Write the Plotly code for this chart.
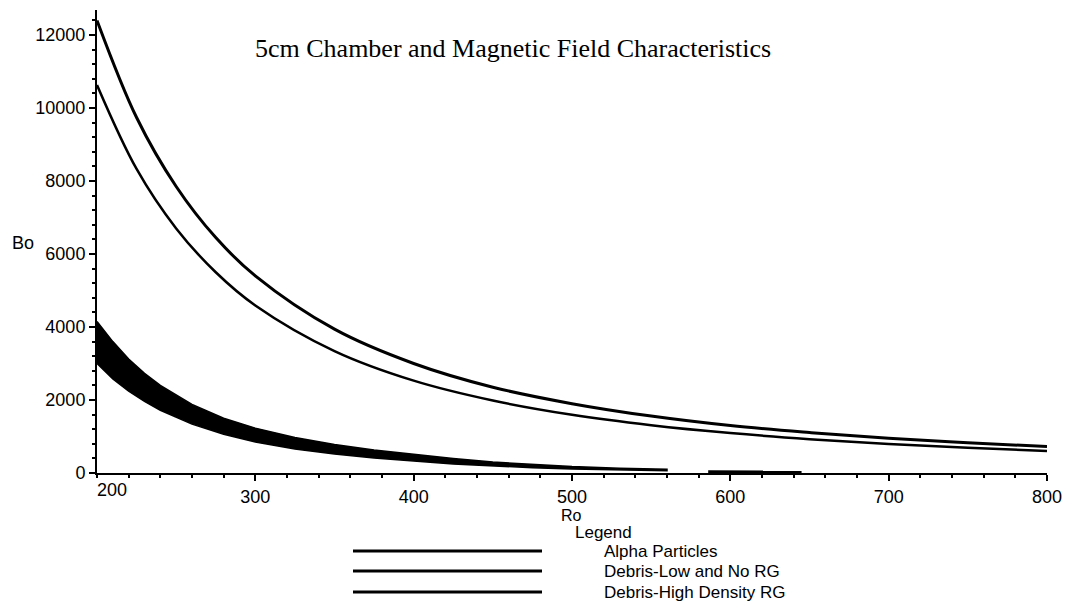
import plotly.graph_objects as go

# ---------------- data ----------------
title_text = "5cm Chamber and Magnetic Field Characteristics"
series_names = ["Alpha Particles", "Debris-Low and No RG", "Debris-High Density RG"]

# Alpha particles: dense band (upper / lower envelope)
r_band = [200, 210, 220, 230, 240, 250, 260, 280, 300, 325, 350, 375, 400, 425, 450, 475, 500, 530, 560]
alpha_top = [4150, 3600, 3120, 2730, 2400, 2130, 1880, 1500, 1230, 970, 780, 630, 510, 400, 300, 230, 175, 130, 100]
alpha_bottom = [3000, 2580, 2240, 1960, 1720, 1520, 1340, 1060, 850, 660, 520, 410, 330, 250, 190, 145, 110, 80, 60]
r_tail = [586, 645]
alpha_tail = [35, 25]

# Debris curves
r_line = [200, 225, 250, 275, 300, 350, 400, 450, 500, 550, 600, 650, 700, 750, 800]
debris_low = [10630, 8330, 6700, 5500, 4590, 3340, 2530, 1985, 1595, 1310, 1094, 927, 795, 689, 603]
debris_high = [12400, 9740, 7850, 6450, 5400, 3940, 3000, 2350, 1900, 1560, 1300, 1110, 950, 830, 725]

x_tick_vals = [200, 300, 400, 500, 600, 700, 800]
y_tick_vals = [0, 2000, 4000, 6000, 8000, 10000, 12000]
x_label = "Ro"
y_label = "Bo"
legend_title = "Legend"

# ---------------- layout geometry ----------------
W, H = 1072, 608
ML, MR, MT, MB = 97, 25, 10, 135
PW = W - ML - MR
PH = H - MT - MB
Y_TOP = 12685


def px(xp):
    return (xp - ML) / PW


def py(yp):
    return (H - MB - yp) / PH


fig = go.Figure()

fig.add_trace(go.Scatter(
    x=r_band + r_band[::-1],
    y=alpha_top + alpha_bottom[::-1],
    mode="lines", fill="toself", fillcolor="black",
    line=dict(color="black", width=1.5),
    name=series_names[0], showlegend=False, hoverinfo="skip"))
fig.add_trace(go.Scatter(
    x=r_tail, y=alpha_tail, mode="lines",
    line=dict(color="black", width=3),
    showlegend=False, hoverinfo="skip"))
fig.add_trace(go.Scatter(
    x=r_line, y=debris_low, mode="lines", line_shape="spline",
    line=dict(color="black", width=2.5),
    name=series_names[1], showlegend=False))
fig.add_trace(go.Scatter(
    x=r_line, y=debris_high, mode="lines", line_shape="spline",
    line=dict(color="black", width=3),
    name=series_names[2], showlegend=False))

tick_font = dict(family="Liberation Sans, Arial, sans-serif", size=18, color="black")

fig.update_xaxes(
    range=[x_tick_vals[0], x_tick_vals[-1]],
    tickvals=x_tick_vals[1:], ticktext=[str(v) for v in x_tick_vals[1:]],
    showline=True, linecolor="black", linewidth=2,
    ticks="outside", ticklen=6, tickwidth=1.5, tickcolor="black",
    minor=dict(ticks="outside", dtick=20, ticklen=3, tickwidth=1.5, tickcolor="black"),
    showgrid=False, zeroline=False, tickfont=tick_font)
fig.update_yaxes(
    range=[0, Y_TOP],
    tickvals=y_tick_vals, ticktext=[str(v) for v in y_tick_vals],
    showline=True, linecolor="black", linewidth=2,
    ticks="outside", ticklen=6, tickwidth=1.5, tickcolor="black",
    minor=dict(ticks="outside", dtick=400, ticklen=3, tickwidth=1.5, tickcolor="black"),
    showgrid=False, zeroline=False, tickfont=tick_font)

ann = []
ann.append(dict(text=title_text, x=px(513), y=py(48), xref="paper", yref="paper",
                showarrow=False, xanchor="center", yanchor="middle",
                font=dict(family="Liberation Serif, Times New Roman, serif", size=26, color="black")))
ann.append(dict(text=str(x_tick_vals[0]), x=px(112), y=py(490), xref="paper", yref="paper",
                showarrow=False, xanchor="center", yanchor="middle", font=tick_font))
ann.append(dict(text=y_label, x=px(23), y=py(243), xref="paper", yref="paper",
                showarrow=False, xanchor="center", yanchor="middle", font=tick_font))
ann.append(dict(text=x_label, x=px(571), y=py(515), xref="paper", yref="paper",
                showarrow=False, xanchor="center", yanchor="middle",
                font=dict(family="Liberation Sans, Arial, sans-serif", size=16, color="black")))
ann.append(dict(text=legend_title, x=px(573), y=py(532), xref="paper", yref="paper",
                showarrow=False, xanchor="left", yanchor="middle",
                font=dict(family="Liberation Sans, Arial, sans-serif", size=17, color="black")))

shapes = []
leg_y = [551, 571, 592]
for name, ly in zip(series_names, leg_y):
    shapes.append(dict(type="line", xref="paper", yref="paper",
                       x0=px(353), x1=px(542), y0=py(ly), y1=py(ly),
                       line=dict(color="black", width=3)))
    ann.append(dict(text=name, x=px(602), y=py(ly), xref="paper", yref="paper",
                    showarrow=False, xanchor="left", yanchor="middle",
                    font=dict(family="Liberation Sans, Arial, sans-serif", size=17, color="black")))

fig.update_layout(
    width=W, height=H,
    margin=dict(l=ML, r=MR, t=MT, b=MB, pad=0),
    paper_bgcolor="white", plot_bgcolor="white",
    showlegend=False,
    annotations=ann, shapes=shapes)

fig.write_html("out.html")
